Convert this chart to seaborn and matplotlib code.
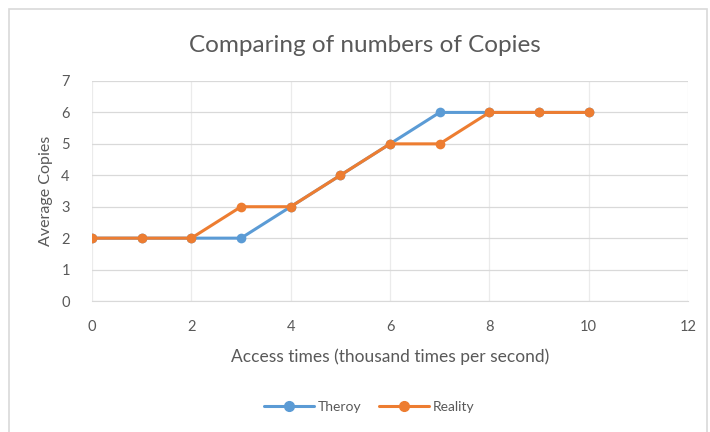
import pandas as pd
import matplotlib.pyplot as plt
import seaborn as sns
from matplotlib.patches import Rectangle

# данные с графика
access_times = [0, 1, 2, 3, 4, 5, 6, 7, 8, 9, 10]
theroy = [2, 2, 2, 2, 3, 4, 5, 6, 6, 6, 6]
reality = [2, 2, 2, 3, 3, 4, 5, 5, 6, 6, 6]
series_names = ['Theroy', 'Reality']
x_ticks = [0, 2, 4, 6, 8, 10, 12]
y_ticks = [0, 1, 2, 3, 4, 5, 6, 7]

data = pd.DataFrame({
    'x': access_times * 2,
    'y': theroy + reality,
    'series': [series_names[0]] * len(theroy) + [series_names[1]] * len(reality),
})

sns.set_style('white')
plt.rcParams['font.family'] = ['Lato', 'DejaVu Sans']
text_color = '#595959'
grid_color = '#d9d9d9'

fig = plt.figure(figsize=(7.1, 4.32), dpi=100)
ax = fig.add_axes([0.1296, 0.3032, 0.8394, 0.5093])

sns.lineplot(data=data, x='x', y='y', hue='series', hue_order=series_names,
             palette=['#5B9BD5', '#ED7D31'], marker='o', markersize=7,
             markeredgewidth=0, linewidth=2.2, ax=ax, legend=False)

ax.set_xlim(0, 12)
ax.set_ylim(0, 7)
ax.set_xticks(x_ticks)
ax.set_yticks(y_ticks)
ax.grid(True, axis='y', color=grid_color, linewidth=0.9)
ax.grid(True, axis='x', color='#ebebeb', linewidth=0.9)
ax.set_axisbelow(True)
for side in ['top', 'right', 'left']:
    ax.spines[side].set_visible(False)
ax.spines['bottom'].set_color(grid_color)
ax.tick_params(axis='x', length=0, labelsize=10.5, colors=text_color, pad=14)
ax.tick_params(axis='y', length=0, labelsize=10.5, colors=text_color, pad=16)

ax.set_xlabel('Access times (thousand times per second)', fontsize=12.5, color=text_color, labelpad=10)
ax.set_ylabel('Average Copies', fontsize=11.5, color=text_color, labelpad=6)
fig.text(0.514, 0.895, 'Comparing of numbers of Copies', ha='center', va='center',
         fontsize=17.5, color=text_color)

# легенда внизу
handles = [plt.Line2D([], [], color=c, marker='o', markersize=7, linewidth=2.2)
           for c in ['#5B9BD5', '#ED7D31']]
fig.legend(handles, series_names, loc='center', bbox_to_anchor=(0.52, 0.058), ncol=2,
           frameon=False, fontsize=10, labelcolor=text_color, handlelength=3.6,
           columnspacing=1.2, handletextpad=0.3)

# рамка диаграммы
fig.add_artist(Rectangle((9 / 710, -0.01), 698 / 710, 1 - 9 / 432 + 0.01, transform=fig.transFigure,
                         fill=False, edgecolor='#d9d9d9', linewidth=1.2))

plt.savefig('out.png', dpi=100)
